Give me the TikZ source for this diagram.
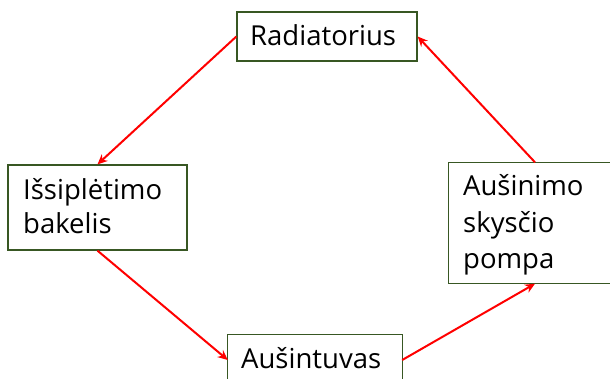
\documentclass[tikz,border=0pt]{standalone}
\usepackage{fontspec}
\setmainfont{Open Sans}
\usetikzlibrary{arrows.meta}
\definecolor{boxgreen}{RGB}{56,87,35}
\definecolor{arrred}{RGB}{255,0,0}
\tikzset{
  box/.style={draw=boxgreen, line width=1.3pt, rectangle, inner sep=0pt},
  openbox/.style={rectangle, inner sep=0pt},
  edge/.style={draw=boxgreen, line width=1.3pt},
  lbl/.style={inner sep=0pt, font=\fontsize{27.5}{33}\selectfont, anchor=base west},
  flow/.style={draw=arrred, line width=2pt, -{Stealth[length=10pt,width=9pt]}, shorten >=0pt}
}
\begin{document}
\begin{tikzpicture}[x=1pt,y=-1pt]
\useasboundingbox (0,0) rectangle (610,378);
\node[box, minimum width=180pt, minimum height=49pt] (rad) at (327,36.5) {};
\node[box, minimum width=179pt, minimum height=85pt] (iss) at (97.5,207.5) {};
\node[openbox, minimum width=172pt, minimum height=121pt] (pom) at (535,223) {};
\draw[edge] (pom.north east) -- (pom.north west) -- (pom.south west) -- (pom.south east);
\node[openbox, minimum width=174pt, minimum height=50pt] (aus) at (315,360) {};
\draw[edge] (aus.south west) -- (aus.north west) -- (aus.north east) -- (aus.south east);
\node[lbl] (trad) at (250,45) {Radiatorius};
\node[lbl] (tiss1) at (23,199) {Išsiplėtimo};
\node[lbl] (tiss2) at (23,233) {bakelis};
\node[lbl] (tpom1) at (463,195) {Aušinimo};
\node[lbl] (tpom2) at (463,232) {skysčio};
\node[lbl] (tpom3) at (463,268) {pompa};
\node[lbl] (taus) at (241,368) {Aušintuvas};
\draw[flow] (rad.west) -- (iss.north);
\draw[flow] (iss.south) -- (aus.west);
\draw[flow] (aus.east) -- (pom.south);
\draw[flow] (pom.north) -- (rad.east);
\end{tikzpicture}
\end{document}
